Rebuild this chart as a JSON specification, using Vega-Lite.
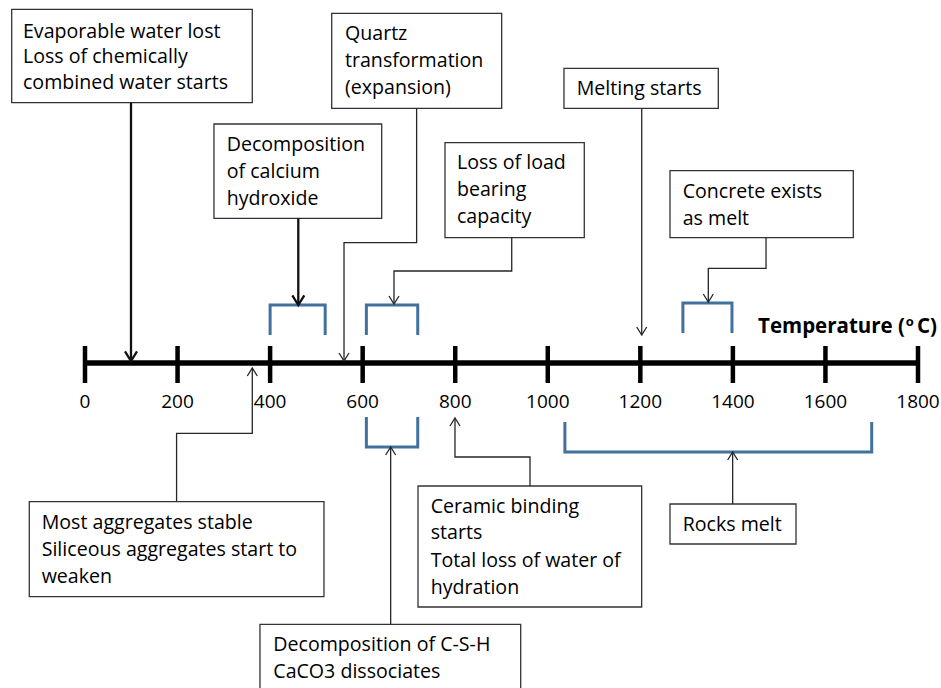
{
  "$schema": "https://vega.github.io/schema/vega-lite/v6.json",
  "width": 941,
  "height": 688,
  "padding": 0,
  "autosize": {"type": "none"},
  "background": "white",
  "config": {"view": {"stroke": null}},
  "datasets": {
    "boxes": [
      {"t1": -158.4, "t2": 361.5, "v1": 9.3, "v2": 102.7},
      {"t1": 278.7, "t2": 641.1, "v1": 124, "v2": 218.3},
      {"t1": 533.1, "t2": 900.4, "v1": 13.3, "v2": 108.3},
      {"t1": 777.9, "t2": 1078.9, "v1": 142.7, "v2": 237.7},
      {"t1": 1035.0, "t2": 1368.5, "v1": 68.3, "v2": 108.3},
      {"t1": 1264.1, "t2": 1660.2, "v1": 170.7, "v2": 237.7},
      {"t1": -120.4, "t2": 516.4, "v1": 501.7, "v2": 596.7},
      {"t1": 719.6, "t2": 1202.9, "v1": 486, "v2": 607},
      {"t1": 378.1, "t2": 941.5, "v1": 624.3, "v2": 720},
      {"t1": 1264.1, "t2": 1536.4, "v1": 504, "v2": 544}
    ],
    "texts": [
      {"t": -134, "v": 31.7, "label": "Evaporable water lost"},
      {"t": -134, "v": 57.3, "label": "Loss of chemically"},
      {"t": -134, "v": 83, "label": "combined water starts"},
      {"t": 306.2, "v": 145, "label": "Decomposition"},
      {"t": 306.2, "v": 171.7, "label": "of calcium"},
      {"t": 306.2, "v": 199, "label": "hydroxide"},
      {"t": 561.8, "v": 34, "label": "Quartz"},
      {"t": 561.8, "v": 61, "label": "transformation"},
      {"t": 561.8, "v": 88, "label": "(expansion)"},
      {"t": 803.8, "v": 163.3, "label": "Loss of load"},
      {"t": 803.8, "v": 190, "label": "bearing"},
      {"t": 803.8, "v": 217.3, "label": "capacity"},
      {"t": 1062.5, "v": 89.3, "label": "Melting starts"},
      {"t": 1291.5, "v": 191.7, "label": "Concrete exists"},
      {"t": 1291.5, "v": 219.3, "label": "as melt"},
      {"t": -93.6, "v": 522.7, "label": "Most aggregates stable"},
      {"t": -93.6, "v": 550, "label": "Siliceous aggregates start to"},
      {"t": -93.6, "v": 576.7, "label": "weaken"},
      {"t": 747, "v": 506.7, "label": "Ceramic binding"},
      {"t": 747, "v": 533.3, "label": "starts"},
      {"t": 747, "v": 560.7, "label": "Total loss of water of"},
      {"t": 747, "v": 588.3, "label": "hydration"},
      {"t": 406.9, "v": 645, "label": "Decomposition of C-S-H"},
      {"t": 406.9, "v": 671.7, "label": "CaCO3 dissociates"},
      {"t": 1291.5, "v": 525, "label": "Rocks melt"}
    ],
    "paths": [
      {"id": "axis", "seq": 1, "t": 0, "v": 363, "kind": "axis"},
      {"id": "axis", "seq": 2, "t": 1800, "v": 363, "kind": "axis"},
      {"id": "c_evap", "seq": 1, "t": 99.4, "v": 102.7, "kind": "thick"},
      {"id": "c_evap", "seq": 2, "t": 99.4, "v": 359, "kind": "thick"},
      {"id": "c_calc", "seq": 1, "t": 460.9, "v": 218.3, "kind": "thick"},
      {"id": "c_calc", "seq": 2, "t": 460.9, "v": 304, "kind": "thick"},
      {"id": "c_quartz", "seq": 1, "t": 716.6, "v": 108.3, "kind": "thin"},
      {"id": "c_quartz", "seq": 2, "t": 716.6, "v": 242.7, "kind": "thin"},
      {"id": "c_quartz", "seq": 3, "t": 559.7, "v": 242.7, "kind": "thin"},
      {"id": "c_quartz", "seq": 4, "t": 559.7, "v": 360, "kind": "thin"},
      {"id": "c_loss", "seq": 1, "t": 922.1, "v": 237.7, "kind": "thin"},
      {"id": "c_loss", "seq": 2, "t": 922.1, "v": 271, "kind": "thin"},
      {"id": "c_loss", "seq": 3, "t": 667.7, "v": 271, "kind": "thin"},
      {"id": "c_loss", "seq": 4, "t": 667.7, "v": 304, "kind": "thin"},
      {"id": "c_melt", "seq": 1, "t": 1203, "v": 108.3, "kind": "thin"},
      {"id": "c_melt", "seq": 2, "t": 1203, "v": 335, "kind": "thin"},
      {"id": "c_concrete", "seq": 1, "t": 1471.6, "v": 237.7, "kind": "thin"},
      {"id": "c_concrete", "seq": 2, "t": 1471.6, "v": 268.3, "kind": "thin"},
      {"id": "c_concrete", "seq": 3, "t": 1346.9, "v": 268.3, "kind": "thin"},
      {"id": "c_concrete", "seq": 4, "t": 1346.9, "v": 302, "kind": "thin"},
      {"id": "c_most", "seq": 1, "t": 197.9, "v": 501.7, "kind": "thin"},
      {"id": "c_most", "seq": 2, "t": 197.9, "v": 433.3, "kind": "thin"},
      {"id": "c_most", "seq": 3, "t": 361.5, "v": 433.3, "kind": "thin"},
      {"id": "c_most", "seq": 4, "t": 361.5, "v": 368, "kind": "thin"},
      {"id": "c_csh", "seq": 1, "t": 660.5, "v": 624.3, "kind": "thin"},
      {"id": "c_csh", "seq": 2, "t": 660.5, "v": 447, "kind": "thin"},
      {"id": "c_ceramic", "seq": 1, "t": 961.6, "v": 486, "kind": "thin"},
      {"id": "c_ceramic", "seq": 2, "t": 961.6, "v": 457, "kind": "thin"},
      {"id": "c_ceramic", "seq": 3, "t": 799.5, "v": 457, "kind": "thin"},
      {"id": "c_ceramic", "seq": 4, "t": 799.5, "v": 418, "kind": "thin"},
      {"id": "c_rocks", "seq": 1, "t": 1399.5, "v": 504, "kind": "thin"},
      {"id": "c_rocks", "seq": 2, "t": 1399.5, "v": 452, "kind": "thin"},
      {"id": "b1", "seq": 1, "t": 400, "v": 335, "kind": "bracket"},
      {"id": "b1", "seq": 2, "t": 400, "v": 305, "kind": "bracket"},
      {"id": "b1", "seq": 3, "t": 519, "v": 305, "kind": "bracket"},
      {"id": "b1", "seq": 4, "t": 519, "v": 335, "kind": "bracket"},
      {"id": "b2", "seq": 1, "t": 608, "v": 335, "kind": "bracket"},
      {"id": "b2", "seq": 2, "t": 608, "v": 305, "kind": "bracket"},
      {"id": "b2", "seq": 3, "t": 719, "v": 305, "kind": "bracket"},
      {"id": "b2", "seq": 4, "t": 719, "v": 335, "kind": "bracket"},
      {"id": "b3", "seq": 1, "t": 1292, "v": 333, "kind": "bracket"},
      {"id": "b3", "seq": 2, "t": 1292, "v": 303, "kind": "bracket"},
      {"id": "b3", "seq": 3, "t": 1398, "v": 303, "kind": "bracket"},
      {"id": "b3", "seq": 4, "t": 1398, "v": 333, "kind": "bracket"},
      {"id": "b4", "seq": 1, "t": 608, "v": 417, "kind": "bracket"},
      {"id": "b4", "seq": 2, "t": 608, "v": 447, "kind": "bracket"},
      {"id": "b4", "seq": 3, "t": 719, "v": 447, "kind": "bracket"},
      {"id": "b4", "seq": 4, "t": 719, "v": 417, "kind": "bracket"},
      {"id": "b5", "seq": 1, "t": 1037, "v": 422, "kind": "bracket"},
      {"id": "b5", "seq": 2, "t": 1037, "v": 452, "kind": "bracket"},
      {"id": "b5", "seq": 3, "t": 1700, "v": 452, "kind": "bracket"},
      {"id": "b5", "seq": 4, "t": 1700, "v": 422, "kind": "bracket"}
    ],
    "ticks": [
      {"t": 0}, {"t": 200}, {"t": 400}, {"t": 600}, {"t": 800},
      {"t": 1000}, {"t": 1200}, {"t": 1400}, {"t": 1600}, {"t": 1800}
    ],
    "arrows": [
      {"t": 99.4, "v": 361, "dir": "down", "weight": "thick"},
      {"t": 460.9, "v": 305, "dir": "down", "weight": "thick"},
      {"t": 559.7, "v": 361, "dir": "down", "weight": "thin"},
      {"t": 667.7, "v": 304, "dir": "down", "weight": "thin"},
      {"t": 1203, "v": 335, "dir": "down", "weight": "thin"},
      {"t": 1346.9, "v": 302, "dir": "down", "weight": "thin"},
      {"t": 361.5, "v": 368, "dir": "up", "weight": "thin"},
      {"t": 660.5, "v": 447, "dir": "up", "weight": "thin"},
      {"t": 799.5, "v": 418, "dir": "up", "weight": "thin"},
      {"t": 1399.5, "v": 452, "dir": "up", "weight": "thin"}
    ],
    "title": [
      {"t": 1454.3, "v": 327, "label": "Temperature (", "part": "main"},
      {"t": 1782, "v": 322, "label": "o", "part": "sup"},
      {"t": 1841.0, "v": 327, "label": "C)", "part": "end"}
    ]
  },
  "layer": [
    {
      "data": {"name": "boxes"},
      "mark": {"type": "rect", "fill": "white", "stroke": "#333333", "strokeWidth": 1.3, "clip": true},
      "encoding": {
        "x": {"field": "t1", "type": "quantitative", "scale": {"domain": [-183.67, 1849.7], "nice": false, "zero": false}, "axis": null},
        "x2": {"field": "t2"},
        "y": {"field": "v1", "type": "quantitative", "scale": {"domain": [0, 688], "reverse": true, "nice": false, "zero": false}, "axis": null},
        "y2": {"field": "v2"}
      }
    },
    {
      "data": {"name": "paths"},
      "mark": {"type": "line", "strokeJoin": "miter", "strokeCap": "butt"},
      "encoding": {
        "x": {"field": "t", "type": "quantitative"},
        "y": {"field": "v", "type": "quantitative"},
        "detail": {"field": "id"},
        "order": {"field": "seq", "type": "quantitative"},
        "color": {"field": "kind", "type": "nominal", "scale": {"domain": ["axis", "thick", "thin", "bracket"], "range": ["#000000", "#111111", "#262626", "#41719C"]}, "legend": null},
        "strokeWidth": {"field": "kind", "type": "nominal", "scale": {"type": "ordinal", "domain": ["axis", "thick", "thin", "bracket"], "range": [5.5, 2.3, 1.3, 3]}, "legend": null}
      }
    },
    {
      "data": {"name": "ticks"},
      "mark": {"type": "rule", "color": "#000000", "strokeWidth": 4.5},
      "encoding": {
        "x": {"field": "t", "type": "quantitative"},
        "y": {"datum": 346},
        "y2": {"datum": 383}
      }
    },
    {
      "data": {"name": "ticks"},
      "mark": {"type": "text", "font": "Open Sans", "fontSize": 19, "align": "center", "baseline": "middle", "color": "#000000"},
      "encoding": {
        "x": {"field": "t", "type": "quantitative"},
        "y": {"datum": 402},
        "text": {"field": "t", "type": "quantitative", "format": "d"}
      }
    },
    {
      "data": {"name": "arrows"},
      "mark": {"type": "point", "filled": false, "opacity": 1},
      "encoding": {
        "x": {"field": "t", "type": "quantitative"},
        "y": {"field": "v", "type": "quantitative"},
        "shape": {"field": "dir", "type": "nominal", "scale": {"domain": ["down", "up"], "range": ["M-1,-1.6L0,0L1,-1.6", "M-1,1.6L0,0L1,1.6"]}, "legend": null},
        "size": {"field": "weight", "type": "nominal", "scale": {"type": "ordinal", "domain": ["thick", "thin"], "range": [144, 100]}, "legend": null},
        "strokeWidth": {"field": "weight", "type": "nominal", "scale": {"type": "ordinal", "domain": ["thick", "thin"], "range": [2.3, 1.3]}, "legend": null},
        "color": {"field": "weight", "type": "nominal", "scale": {"domain": ["thick", "thin"], "range": ["#111111", "#262626"]}, "legend": null}
      }
    },
    {
      "data": {"name": "texts"},
      "mark": {"type": "text", "font": "Open Sans", "fontSize": 19.6, "align": "left", "baseline": "middle", "color": "#000000"},
      "encoding": {
        "x": {"field": "t", "type": "quantitative"},
        "y": {"field": "v", "type": "quantitative"},
        "text": {"field": "label", "type": "nominal"}
      }
    },
    {
      "data": {"name": "title"},
      "transform": [{"filter": "datum.part == 'main'"}],
      "mark": {"type": "text", "font": "Open Sans", "fontSize": 20.5, "fontWeight": "bold", "align": "left", "baseline": "middle", "color": "#000000"},
      "encoding": {
        "x": {"field": "t", "type": "quantitative"},
        "y": {"field": "v", "type": "quantitative"},
        "text": {"field": "label", "type": "nominal"}
      }
    },
    {
      "data": {"name": "title"},
      "transform": [{"filter": "datum.part == 'sup'"}],
      "mark": {"type": "text", "font": "Open Sans", "fontSize": 13, "fontWeight": "bold", "align": "center", "baseline": "middle", "color": "#000000"},
      "encoding": {
        "x": {"field": "t", "type": "quantitative"},
        "y": {"field": "v", "type": "quantitative"},
        "text": {"field": "label", "type": "nominal"}
      }
    },
    {
      "data": {"name": "title"},
      "transform": [{"filter": "datum.part == 'end'"}],
      "mark": {"type": "text", "font": "Open Sans", "fontSize": 20.5, "fontWeight": "bold", "align": "right", "baseline": "middle", "color": "#000000"},
      "encoding": {
        "x": {"field": "t", "type": "quantitative"},
        "y": {"field": "v", "type": "quantitative"},
        "text": {"field": "label", "type": "nominal"}
      }
    }
  ]
}
